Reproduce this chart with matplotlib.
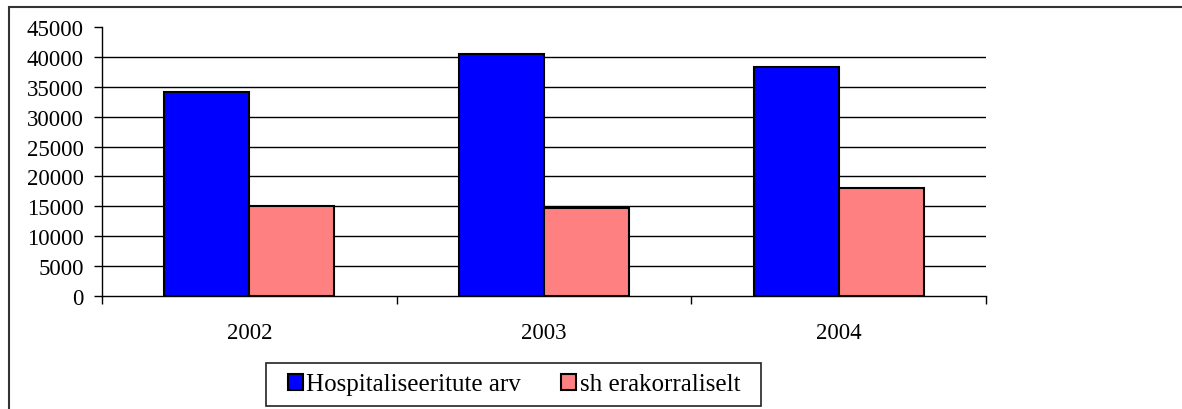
import matplotlib
matplotlib.use("Agg")
import matplotlib.pyplot as plt
from matplotlib.patches import Rectangle
import numpy as np

categories = ["2002", "2003", "2004"]
series_names = ["Hospitaliseeritute arv", "sh erakorraliselt"]
hosp = [34200, 40500, 38300]
erak = [15100, 14700, 18100]
yticks = [0, 5000, 10000, 15000, 20000, 25000, 30000, 35000, 40000, 45000]

plt.rcParams['font.family'] = ['Liberation Serif', 'DejaVu Serif']

W, H = 1182, 410
fig = plt.figure(figsize=(W / 100, H / 100), dpi=100)
ax = fig.add_axes([102 / W, 1 - 297 / H, (986 - 102) / W, (297 - 28) / H])

x = np.arange(len(categories))
bw = 0.288
ax.bar(x - bw / 2, hosp, bw, color="#0000FF", edgecolor="black", linewidth=1.5,
       label=series_names[0], zorder=3)
ax.bar(x + bw / 2, erak, bw, color="#FF8080", edgecolor="black", linewidth=1.5,
       label=series_names[1], zorder=3)

ax.set_xlim(-0.5, len(categories) - 0.5)
ax.set_ylim(0, 45000)
ax.set_yticks(yticks)
ax.set_yticklabels([str(v) for v in yticks], fontsize=16.5)
for v in yticks[1:-1]:
    ax.axhline(v, color="black", linewidth=1, zorder=1)

ax.set_xticks(np.arange(-0.5, len(categories), 1.0))
ax.set_xticklabels([])
ax.set_xticks(x, minor=True)
ax.set_xticklabels(categories, minor=True, fontsize=16.5)
ax.tick_params(axis="x", which="minor", length=0, pad=19)
ax.tick_params(axis="x", which="major", length=6, width=1, direction="out")
ax.tick_params(axis="y", length=6, width=1, direction="out", pad=7)

for s in ["top", "right"]:
    ax.spines[s].set_visible(False)
for s in ["left", "bottom"]:
    ax.spines[s].set_linewidth(1)

# legend frame
fig.patches.append(Rectangle((265.7 / W, 1 - 406.7 / H), (760.7 - 265.7) / W,
                             (406.7 - 364) / H, transform=fig.transFigure,
                             fill=False, edgecolor="#222222", linewidth=1.2))
leg = fig.legend(loc="center", bbox_to_anchor=(514 / W, 1 - 385.5 / H),
                 ncol=2, fontsize=18, frameon=False,
                 handlelength=0.6, handleheight=0.6,
                 handletextpad=0.15, columnspacing=1.6, borderpad=0.2)
for h in leg.legend_handles:
    h.set_linewidth(1.5)

fig.patches.append(Rectangle((9 / W, -0.1), 1.2, 1 - 8 / H + 0.1,
                             transform=fig.transFigure, fill=False,
                             edgecolor="#333333", linewidth=1.5))

fig.savefig("out.png", dpi=100)
